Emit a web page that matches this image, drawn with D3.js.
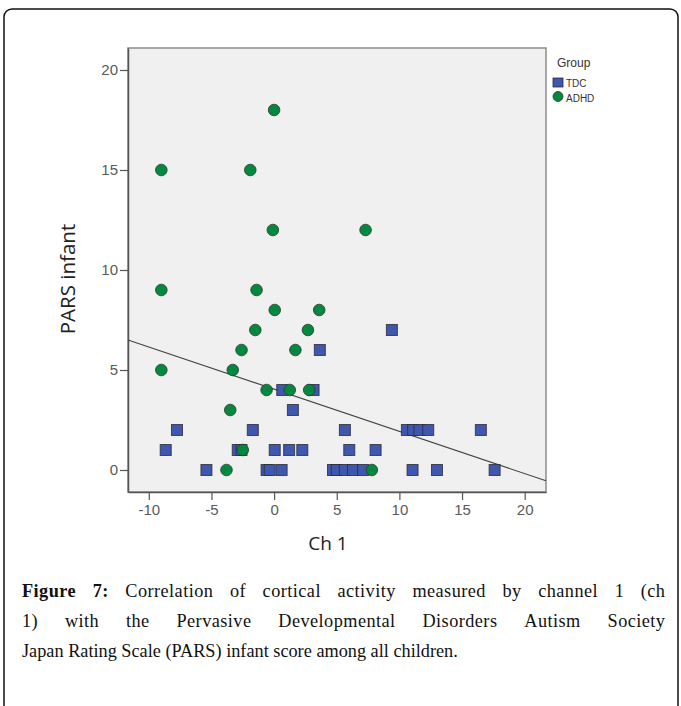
<!DOCTYPE html>
<html><head><meta charset="utf-8">
<script src="https://cdn.jsdelivr.net/npm/d3@7"></script>
<style>body{margin:0;background:#fff}svg{display:block}</style>
</head><body>
<svg id="c" width="681" height="706"></svg>
<script>
// ---- data ----
const tdcX = [9.4, 3.65, 0.65, 3.15, 1.5, -7.75, -1.7, 5.65, 10.6, 11.1, 11.6, 12.3, 16.5,
  -8.65, -2.9, -2.6, 0.05, 1.2, 2.25, 6.0, 8.1,
  -5.4, -0.6, -0.35, 0.6, 4.7, 5.0, 5.65, 6.3, 7.1, 11.05, 13.0, 17.6];
const tdcY = [7, 6, 4, 4, 3, 2, 2, 2, 2, 2, 2, 2, 2,
  1, 1, 1, 1, 1, 1, 1, 1,
  0, 0, 0, 0, 0, 0, 0, 0, 0, 0, 0, 0];
const adhdX = [0, -9, -1.9, -0.1, 7.3, -9, -1.4, 0.05, 3.6, -1.5, 2.7, -2.6, 1.7, -9, -3.3, -0.6, 1.25, 2.8, -3.5, -2.5, -3.8, 7.8];
const adhdY = [18, 15, 15, 12, 12, 9, 9, 8, 8, 7, 7, 6, 6, 5, 5, 4, 4, 4, 3, 1, 0, 0];
const fitIntercept = 4.04, fitSlope = -0.211;
const xTicks = [-10, -5, 0, 5, 10, 15, 20];
const yTicks = [0, 5, 10, 15, 20];
const groups = ["TDC", "ADHD"];
const xTitle = "Ch 1", yTitle = "PARS infant", legendTitle = "Group";
const captionBold = "Figure 7:";
const captionLines = [
  "Correlation of cortical activity measured by channel 1 (ch",
  "1) with the Pervasive Developmental Disorders Autism Society",
  "Japan Rating Scale (PARS) infant score among all children."
];

// ---- layout ----
const svg = d3.select("#c");
const L = 128, R = 546, T = 48, B = 492;
const x = d3.scaleLinear().domain([-11.66, 21.7]).range([L, R]);
const y = d3.scaleLinear().domain([-1.1, 21.1]).range([B, T]);
const blue = "#3f58ad", green = "#03893f";

svg.append("rect").attr("x", 4).attr("y", 9).attr("width", 674).attr("height", 740)
  .attr("rx", 8).attr("fill", "none").attr("stroke", "#111").attr("stroke-width", 1.5);

svg.append("rect").attr("x", L).attr("y", T).attr("width", R - L).attr("height", B - T)
  .attr("fill", "#f0f0f0").attr("stroke", "#8c8c8c").attr("stroke-width", 1.5);

const fmt = d => String(d);
const gx = svg.append("g").attr("transform", `translate(0,${B})`)
  .call(d3.axisBottom(x).tickValues(xTicks).tickFormat(fmt).tickSize(8).tickSizeOuter(0).tickPadding(4));
const gy = svg.append("g").attr("transform", `translate(${L},0)`)
  .call(d3.axisLeft(y).tickValues(yTicks).tickFormat(fmt).tickSize(8).tickSizeOuter(0).tickPadding(2));
[gx, gy].forEach(g => {
  g.select(".domain").attr("stroke", "#555").attr("stroke-width", 1.5);
  g.selectAll(".tick line").attr("stroke", "#555").attr("stroke-width", 1.2);
  g.selectAll(".tick text").attr("fill", "#5a5a5a").attr("font-family", "Liberation Sans, Arial, sans-serif").attr("font-size", 15);
});

// fit line
const x0 = x.domain()[0], x1 = x.domain()[1];
svg.append("line")
  .attr("x1", x(x0)).attr("y1", y(fitIntercept + fitSlope * x0))
  .attr("x2", x(x1)).attr("y2", y(fitIntercept + fitSlope * x1))
  .attr("stroke", "#444").attr("stroke-width", 1.1);

// points
const s = 11;
const tdc = tdcX.map((v, i) => ({x: v, y: tdcY[i]}));
const adhd = adhdX.map((v, i) => ({x: v, y: adhdY[i]}));
svg.append("g").selectAll("rect").data(tdc).join("rect")
  .attr("x", d => x(d.x) - s / 2).attr("y", d => y(d.y) - s / 2)
  .attr("width", s).attr("height", s)
  .attr("fill", blue).attr("stroke", "#2a2a3a").attr("stroke-width", 1).attr("stroke-opacity", 0.8);
svg.append("g").selectAll("circle").data(adhd).join("circle")
  .attr("cx", d => x(d.x)).attr("cy", d => y(d.y)).attr("r", 5.8)
  .attr("fill", green).attr("stroke", "#2a3a2a").attr("stroke-width", 1).attr("stroke-opacity", 0.8);

// axis titles
svg.append("text").attr("x", (L + R) / 2 - 9).attr("y", 550).attr("text-anchor", "middle")
  .attr("font-family", "Open Sans, sans-serif").attr("font-size", 19).attr("fill", "#222").text(xTitle);
svg.append("text").attr("transform", `translate(75,${279}) rotate(-90)`).attr("text-anchor", "middle")
  .attr("font-family", "Open Sans, sans-serif").attr("font-size", 20.5).attr("fill", "#222").text(yTitle);

// legend
const lg = svg.append("g").attr("font-family", "Liberation Sans, Arial, sans-serif").attr("fill", "#333");
lg.append("text").attr("x", 557).attr("y", 67).attr("font-size", 12).text(legendTitle);
lg.append("rect").attr("x", 553).attr("y", 78).attr("width", 10).attr("height", 9)
  .attr("fill", blue).attr("stroke", "#2a2a3a").attr("stroke-width", 0.8);
lg.append("circle").attr("cx", 558).attr("cy", 96.5).attr("r", 5)
  .attr("fill", green).attr("stroke", "#2a3a2a").attr("stroke-width", 0.8);
lg.append("text").attr("x", 566).attr("y", 86.5).attr("font-size", 10).text(groups[0]);
lg.append("text").attr("x", 566).attr("y", 101.5).attr("font-size", 10).text(groups[1]);

// caption (justified)
const capL = 22, capR = 665, capLastR = 458, capFont = "Liberation Serif, Times New Roman, serif";
const baselines = [597, 627, 657];
function measure(t, bold, size) {
  const e = svg.append("text").attr("font-family", capFont).attr("font-size", size)
    .attr("font-weight", bold ? "bold" : "normal").text(t);
  const w = e.node().getComputedTextLength(); e.remove(); return w;
}
let capSize = 18;
capSize = Math.min(20, capSize * (capLastR - capL) / measure(captionLines[2], false, capSize));
const spaceW = measure("a a", false, capSize) - measure("aa", false, capSize);
captionLines.forEach((line, li) => {
  let words = line.split(" ").map(w => ({t: w, b: false}));
  if (li === 0) words = captionBold.split(" ").map(w => ({t: w, b: true})).concat(words);
  const widths = words.map(w => measure(w.t, w.b, capSize));
  const justify = li < captionLines.length - 1;
  const nch = d3.sum(words, w => w.t.length);
  const ls = justify ? Math.min(0.45, Math.max(0, (capR - capL - d3.sum(widths) - spaceW * 1.5 * (words.length - 1)) / nch)) : 0;
  const wEff = widths.map((w, i) => w + ls * words[i].t.length);
  const gap = justify ? (capR - capL - d3.sum(wEff) + ls) / (words.length - 1) : spaceW;
  let cx = capL;
  const t = svg.append("text").attr("y", baselines[li]).attr("font-family", capFont)
    .attr("font-size", capSize).attr("fill", "#111").attr("letter-spacing", ls);
  words.forEach((w, i) => {
    t.append("tspan").attr("x", cx).attr("font-weight", w.b ? "bold" : "normal").text(w.t);
    cx += wEff[i] + gap;
  });
});
</script>
</body></html>
